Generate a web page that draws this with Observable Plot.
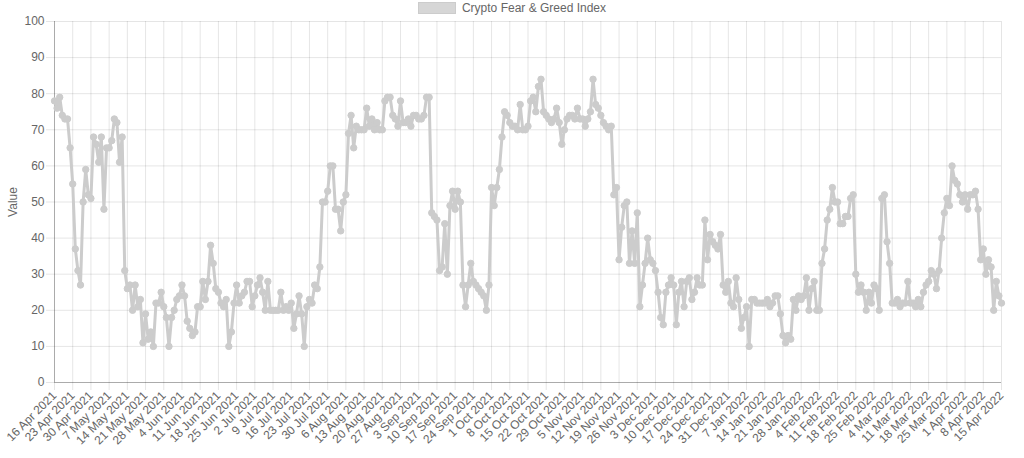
<!DOCTYPE html>
<html><head><meta charset="utf-8">
<script src="https://cdn.jsdelivr.net/npm/d3@7"></script>
<script src="https://cdn.jsdelivr.net/npm/@observablehq/plot@0.6"></script>
<style>
html,body{margin:0;padding:0;background:#fff;}
body{font-family:"Liberation Sans",Arial,Helvetica,sans-serif;width:1024px;height:458px;overflow:hidden;}
#legend{height:16px;display:flex;justify-content:center;align-items:center;font-size:12px;color:#666;padding-top:0px;}
#legend .box{display:inline-block;width:38px;height:12px;background:rgb(214,214,214);border:1px solid rgb(204,204,204);box-sizing:border-box;margin-right:6px;}
#chart svg{display:block;}
</style></head><body>
<div id="legend"><span class="box"></span><span>Crypto Fear &amp; Greed Index</span></div>
<div id="chart"></div>
<script>
const seriesName = "Crypto Fear & Greed Index";
const startDate = "2021-04-16";
const values = [
78,76,79,74,73,73,65,55,37,31,27,50,59,52,51,68,66,61,68,48,65,65,67,73,72,61,68,31,26,27,
20,27,21,23,11,19,12,14,10,22,22,25,21,18,10,18,20,23,24,27,24,17,15,13,14,21,21,28,23,28,
38,33,26,25,22,21,23,10,14,22,27,22,24,25,28,28,21,24,27,29,25,20,28,20,20,20,20,25,20,21,
20,22,15,19,24,19,10,21,23,22,27,26,32,50,50,53,60,60,48,48,42,50,52,69,74,65,71,70,70,70,
76,71,73,70,72,70,70,78,79,79,74,73,71,78,72,72,73,71,74,74,73,73,74,79,79,47,46,45,31,32,
44,30,49,53,48,53,50,27,21,27,33,28,27,26,25,24,20,27,54,49,54,59,68,75,74,72,71,71,70,77,
70,70,71,78,79,75,82,84,75,74,73,72,73,76,72,66,70,73,74,74,73,76,73,73,71,73,75,84,77,76,
74,72,71,70,71,52,54,34,43,49,50,33,42,33,47,21,27,33,40,34,33,31,25,18,16,25,27,29,27,16,
25,28,21,28,29,23,25,29,27,27,45,34,41,39,38,37,41,27,25,28,22,21,29,23,15,18,21,10,23,23,
22,22,22,22,23,21,22,24,24,19,13,11,13,12,23,20,24,23,24,29,20,26,28,20,20,33,37,45,48,54,
50,50,44,44,46,46,51,52,30,25,27,25,20,25,22,27,26,20,51,52,39,33,22,22,23,21,22,22,28,22,
22,21,23,21,25,27,28,31,30,26,31,40,47,51,49,60,56,55,52,50,52,48,52,52,53,48,34,37,30,34,
32,20,28,24,22
];
const yTicks = [0,10,20,30,40,50,60,70,80,90,100];
const tickEveryDays = 7;
const lineColor = "rgb(204,204,204)";

const start = new Date(startDate + "T00:00:00Z");
const data = values.map((v, i) => ({date: d3.utcDay.offset(start, i), value: v}));
const tickDates = data.filter((d, i) => i % tickEveryDays === 0).map(d => d.date);
const fmt = d3.utcFormat("%-d %b %Y");

const chart = Plot.plot({
  width: 1024,
  height: 442,
  marginTop: 5,
  marginLeft: 54,
  marginRight: 23,
  marginBottom: 76,
  style: {fontFamily: "'Liberation Sans', Arial, Helvetica, sans-serif", fontSize: "12px", color: "#666", background: "#fff", overflow: "visible"},
  x: {type: "utc", domain: [data[0].date, data[data.length - 1].date], ticks: tickDates, tickFormat: fmt, tickRotate: -45, tickSize: 8, tickPadding: 3, label: null},
  y: {domain: [0, 100], ticks: yTicks, tickSize: 8, tickPadding: 2, label: "Value", labelAnchor: "center", labelArrow: "none", labelOffset: 46},
  marks: [
    Plot.gridX(tickDates, {stroke: "#000", strokeOpacity: 0.1, strokeWidth: 1}),
    Plot.gridY(yTicks, {stroke: "#000", strokeOpacity: 0.1, strokeWidth: 1}),
    Plot.ruleY([0], {stroke: "#000", strokeOpacity: 0.25}),
    Plot.ruleX([data[0].date], {stroke: "#000", strokeOpacity: 0.25}),
    Plot.axisX({ticks: tickDates, tickFormat: fmt, tickRotate: -45, tickSize: 8, tickPadding: 3, stroke: "#000", strokeOpacity: 0.1, label: null, color: "#666"}),
    Plot.axisY({ticks: yTicks, tickSize: 8, tickPadding: 2, stroke: "#000", strokeOpacity: 0.1, label: "Value", labelAnchor: "center", labelArrow: "none", labelOffset: 46, color: "#666"}),
    Plot.lineY(data, {x: "date", y: "value", stroke: lineColor, strokeWidth: 3}),
    Plot.dot(data, {x: "date", y: "value", r: 3.2, fill: lineColor, stroke: lineColor, strokeWidth: 1})
  ]
});
document.getElementById("chart").appendChild(chart);
</script>
</body></html>
